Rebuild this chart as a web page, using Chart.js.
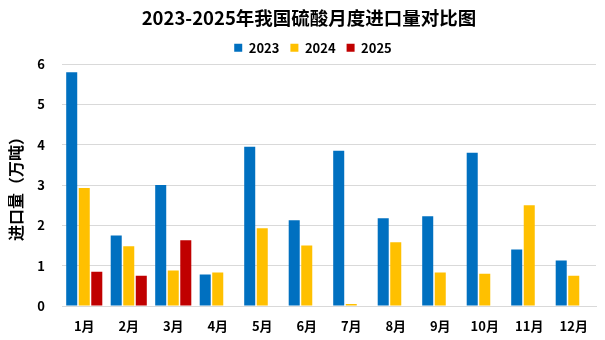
<!DOCTYPE html>
<html>
<head>
<meta charset="utf-8">
<script src="https://cdn.jsdelivr.net/npm/chart.js@4"></script>
<style>
html,body{margin:0;padding:0;background:#fff;}
#wrap{width:605px;height:340px;position:relative;}
</style>
</head>
<body>
<div id="wrap"><canvas id="c" width="605" height="340"></canvas></div>
<script>
const months = ['1月','2月','3月','4月','5月','6月','7月','8月','9月','10月','11月','12月'];
const v2023 = [5.8,1.75,3.0,0.78,3.95,2.13,3.85,2.18,2.23,3.8,1.4,1.13];
const v2024 = [2.93,1.48,0.88,0.83,1.93,1.5,0.05,1.58,0.83,0.8,2.5,0.75];
const v2025 = [0.85,0.75,1.63,null,null,null,null,null,null,null,null,null];
const yTicks = [0,1,2,3,4,5,6];
const FONT = '"Noto Sans CJK SC", "Noto Sans", sans-serif';

const shiftPlugin = {
  id:'shiftHeader',
  afterLayout(chart){
    const t = chart.titleBlock, l = chart.legend;
    if (t){ t.left += 11; t.right += 11; }
    if (l){ l.left += 15; l.right += 15; }
  }
};

new Chart(document.getElementById('c'), {
  type: 'bar',
  plugins:[shiftPlugin],
  data: {
    labels: months,
    datasets: [
      {label:'2023', data:v2023, backgroundColor:'#0070C0'},
      {label:'2024', data:v2024, backgroundColor:'#FFC000'},
      {label:'2025', data:v2025, backgroundColor:'#C00000'}
    ]
  },
  options: {
    responsive:false,
    animation:false,
    devicePixelRatio:1,
    categoryPercentage:0.845,
    barPercentage:0.88,
    layout:{padding:{left:0,right:9,top:7,bottom:0}},
    plugins:{
      title:{display:true,text:'2023-2025年我国硫酸月度进口量对比图',color:'#000',
        font:{family:FONT,size:18.5,weight:'bold'},padding:{top:0,bottom:1}},
      legend:{position:'top',labels:{color:'#000',boxWidth:8,boxHeight:8,padding:11,
        font:{family:FONT,size:13,weight:'bold'}}},
      tooltip:{enabled:false}
    },
    scales:{
      x:{
        grid:{display:false,drawTicks:false},
        border:{color:'#d9d9d9',width:1},
        ticks:{color:'#000',padding:12,font:{family:FONT,size:13,weight:'bold'}},
        afterFit:s=>{s.height=34;}
      },
      y:{
        min:0,max:6,
        afterBuildTicks:s=>{s.ticks=yTicks.map(v=>({value:v}));},
        grid:{color:'#d9d9d9',drawTicks:false},
        border:{display:false},
        ticks:{color:'#000',padding:17,font:{family:FONT,size:13,weight:'bold'}},
        title:{display:true,text:'进口量（万吨）',color:'#000',font:{family:FONT,size:16,weight:'bold'},padding:{top:6,bottom:0}},
        afterFit:s=>{s.width=62;}
      }
    }
  }
});
</script>
</body>
</html>
